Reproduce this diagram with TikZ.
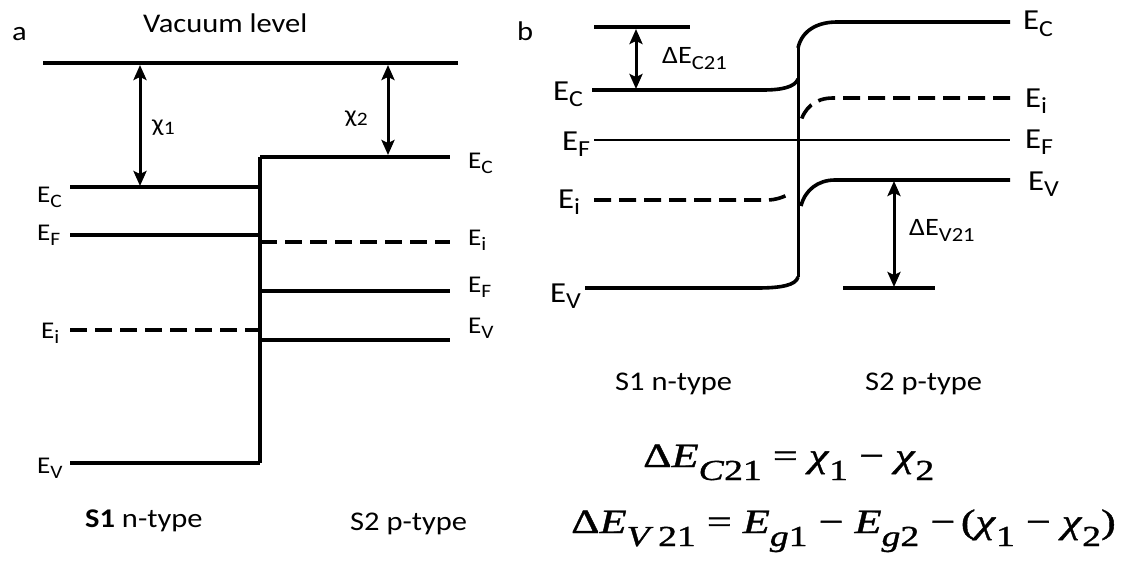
\documentclass[tikz,border=0pt]{standalone}
\usepackage{fontspec}
\setmainfont{Carlito}[FakeStretch=1.13]
\newfontfamily\eqf{Liberation Serif}[FakeStretch=1.3,FakeBold=1.2]
\usetikzlibrary{arrows.meta}
\newcommand\la[1]{E\raisebox{-5pt}{\fontsize{19}{19}\selectfont #1}}
\newcommand\lb[1]{E\raisebox{-6pt}{\fontsize{23}{23}\selectfont #1}}
\newcommand\chisub[1]{χ\raisebox{-3pt}{\fontsize{19}{19}\selectfont #1}}
\newcommand\dsub[1]{ΔE\raisebox{-6pt}{\fontsize{20}{20}\selectfont #1}}
\newcommand\esub[1]{\raisebox{-13pt}{\fontsize{29}{29}\selectfont #1}}
\begin{document}
\begin{tikzpicture}[x=1pt,y=-1pt,
  band/.style={line width=3.6pt},
  thinband/.style={line width=2.4pt},
  dband/.style={line width=3.6pt,dash pattern=on 17pt off 8pt},
  dimarrow/.style={line width=3pt,{Stealth[length=15pt,width=13pt,inset=3pt]}-{Stealth[length=15pt,width=13pt,inset=3pt]}},
  lblA/.style={inner sep=0pt,anchor=base west,font=\fontsize{24}{24}\selectfont},
  lblB/.style={inner sep=0pt,anchor=base west,font=\fontsize{29}{29}\selectfont},
  title/.style={inner sep=0pt,anchor=base west,font=\fontsize{27}{27}\selectfont},
  eq/.style={inner sep=0pt,anchor=base west,font=\eqf\fontsize{34}{34}\selectfont}]
\useasboundingbox (0,0) rectangle (1128,562);
% ---------------- panel a ----------------
\node[title] (pa) at (12,40) {a};
\node[title] (vac) at (143,32) {Vacuum level};
\coordinate (vacL) at (43,63); \coordinate (vacR) at (458,63);
\draw[band] (vacL) -- (vacR);
\coordinate (ecl0) at (70,187); \coordinate (ecl1) at (260,187);
\coordinate (efl0) at (70,235); \coordinate (efl1) at (260,235);
\coordinate (eil0) at (70,330); \coordinate (eil1) at (258,330);
\coordinate (evl0) at (70,463); \coordinate (evl1) at (260,463);
\coordinate (ecr0) at (260,157); \coordinate (ecr1) at (450,157);
\coordinate (eir0) at (260,242); \coordinate (eir1) at (450,242);
\coordinate (efr0) at (260,291); \coordinate (efr1) at (450,291);
\coordinate (evr0) at (260,340); \coordinate (evr1) at (450,340);
\draw[band] (ecl0) -- (ecl1);
\draw[band] (efl0) -- (efl1);
\draw[dband] (eil0) -- (eil1);
\draw[band] (evl0) -- (evl1);
\draw[band] (ecr0) -- (evl1);
\draw[band] (ecr0) -- (ecr1);
\draw[dband] (eir0) -- (eir1);
\draw[band] (efr0) -- (efr1);
\draw[band] (evr0) -- (evr1);
\coordinate (x1t) at (140,65); \coordinate (x1b) at (140,186);
\coordinate (x2t) at (388,65); \coordinate (x2b) at (388,155);
\draw[dimarrow] (x1t) -- (x1b);
\draw[dimarrow] (x2t) -- (x2b);
\node[lblA] (chi1) at (152,131) {\chisub{1}};
\node[lblA] (chi2) at (345,122) {\chisub{2}};
\node[lblA] (aECl) at (37,202) {\la{C}};
\node[lblA] (aEFl) at (37,240) {\la{F}};
\node[lblA] (aEil) at (41,338) {\la{i}};
\node[lblA] (aEVl) at (37,473) {\la{V}};
\node[lblA] (aECr) at (468,168) {\la{C}};
\node[lblA] (aEir) at (468,245) {\la{i}};
\node[lblA] (aEFr) at (468,292) {\la{F}};
\node[lblA] (aEVr) at (468,333) {\la{V}};
\node[title] (aS1) at (85,527) {\textbf{S1} n-type};
\node[title] (aS2) at (350,530) {S2 p-type};
% ---------------- panel b ----------------
\node[title] (pb) at (517,40) {b};
\coordinate (top0) at (594,27); \coordinate (top1) at (690,27);
\draw[band] (top0) -- (top1);
\coordinate (bot0) at (843,288); \coordinate (bot1) at (935,288);
\draw[band] (bot0) -- (bot1);
% vertical junction
\coordinate (jt) at (798,48); \coordinate (jb) at (798,277);
\draw[line width=3pt] (jt) -- (jb);
% conduction band
\coordinate (bECl0) at (592,90); \coordinate (bECl1) at (763,90);
\coordinate (bECr0) at (837,22); \coordinate (bECr1) at (1010,22);
\draw[band] (bECl0) -- (bECl1) .. controls (782,90) and (795,87) .. (798,79);
\draw[band] (jt) .. controls (802,30) and (818,22) .. (bECr0) -- (bECr1);
% Fermi level
\coordinate (bEF0) at (594,140); \coordinate (bEF1) at (1010,140);
\draw[thinband] (bEF0) -- (bEF1);
% intrinsic levels
\coordinate (bEil0) at (594,200); \coordinate (bEil1) at (767,200);
\draw[dband] (bEil0) -- (bEil1) .. controls (776,200) and (784,197) .. (791,193);
\coordinate (bEir0) at (833,98); \coordinate (bEir1) at (1010,98);
\draw[dband] (bEir1) -- (bEir0) .. controls (815,98) and (804,108) .. (800,124);
% valence band
\coordinate (bEVl0) at (585,288); \coordinate (bEVl1) at (757,288);
\draw[band] (bEVl0) -- (bEVl1) .. controls (782,288) and (796,285) .. (jb);
\coordinate (bEVr0) at (835,180); \coordinate (bEVr1) at (1010,180);
\draw[band] (801,206) .. controls (805,190) and (818,180) .. (bEVr0) -- (bEVr1);
% offsets
\coordinate (dct) at (636,29); \coordinate (dcb) at (636,89);
\draw[dimarrow] (dct) -- (dcb);
\coordinate (dvt) at (894,181); \coordinate (dvb) at (894,287);
\draw[dimarrow] (dvt) -- (dvb);
\node[lblA,font=\fontsize{25}{25}\selectfont] (dEC) at (662,63) {\dsub{C21}};
\node[lblA,font=\fontsize{25}{25}\selectfont] (dEV) at (909,235) {\dsub{V21}};
\node[lblB] (bECl) at (553,100) {\lb{C}};
\node[lblB] (bEFl) at (562,150) {\lb{F}};
\node[lblB] (bEil) at (558,208) {\lb{i}};
\node[lblB] (bEVl) at (550,302) {\lb{V}};
\node[lblB] (bECr) at (1023,30) {\lb{C}};
\node[lblB] (bEir) at (1025,107) {\lb{i}};
\node[lblB] (bEFr) at (1025,148) {\lb{F}};
\node[lblB] (bEVr) at (1028,190) {\lb{V}};
\node[title] (bS1) at (615,390) {S1 n-type};
\node[title] (bS2) at (865,390) {S2 p-type};
% equations
\node[eq] (eq1) at (643,467) {Δ\textit{E}\esub{\textit{C}21} = \textit{χ}\esub{1} − \textit{χ}\esub{2}};
\node[eq] (eq2) at (571,533) {Δ\textit{E}\esub{\textit{V}\,21} = \textit{E}\esub{\textit{g}1} − \textit{E}\esub{\textit{g}2} −\,(\textit{χ}\esub{1} − \textit{χ}\esub{2})};
\end{tikzpicture}
\end{document}
